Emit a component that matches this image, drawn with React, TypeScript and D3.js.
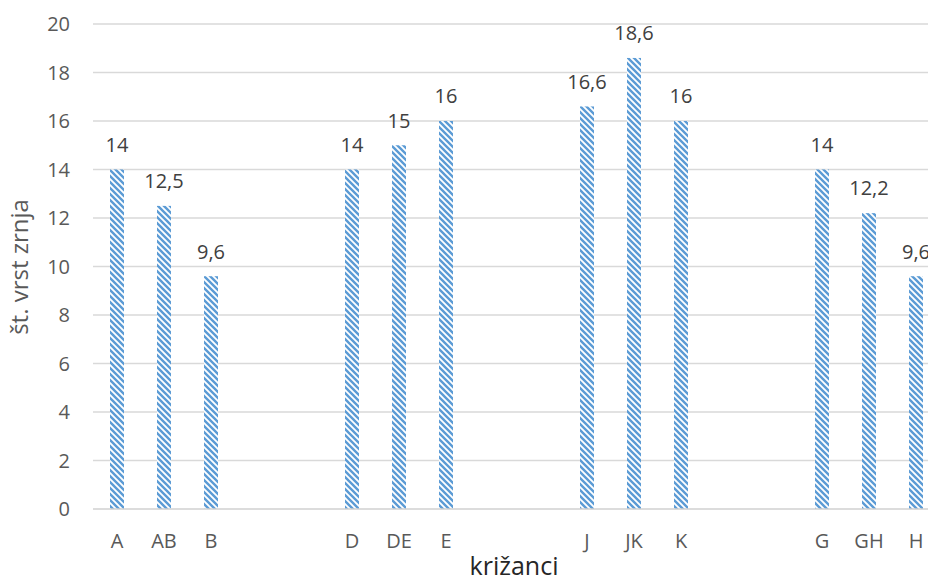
import React from "react";
import * as d3 from "d3";

// Crosses (križanci) grouped by parent line; empty slots separate the groups.
const categories = ["A", "AB", "B", "", "", "D", "DE", "E", "", "", "J", "JK", "K", "", "", "G", "GH", "H"];
const values: (number | null)[] = [14, 12.5, 9.6, null, null, 14, 15, 16, null, null, 16.6, 18.6, 16, null, null, 14, 12.2, 9.6];
const yTicks = [0, 2, 4, 6, 8, 10, 12, 14, 16, 18, 20];

const W = 928;
const H = 577;
const FONT = "'Open Sans', 'Noto Sans', sans-serif";
const AXIS_TEXT = "#595959";
const LABEL_TEXT = "#404040";
const BLUE = "#5B9BD5";

const fmt = (v: number) => String(v).replace(".", ",");

export default function App() {
  const slots = categories.map((_, i) => String(i));
  const x = d3.scaleBand<string>().domain(slots).range([93.5, 939.5]).paddingInner(0).paddingOuter(0);
  const y = d3.scaleLinear().domain([0, 20]).range([509, 24]);
  const barW = 14;
  const cx = (i: number) => (x(String(i)) as number) + x.bandwidth() / 2;

  return (
    <svg width={W} height={H} style={{ position: "absolute", left: 0, top: 0, background: "#fff" }}>
      <defs>
        <pattern id="dnDiag" patternUnits="userSpaceOnUse" width={6} height={6}>
          <rect width={6} height={6} fill="#fff" />
          <path d="M-1.5,-1.5 L7.5,7.5 M-1.5,4.5 L1.5,7.5 M4.5,-1.5 L7.5,1.5" stroke={BLUE} strokeWidth={2.4} />
        </pattern>
      </defs>

      {yTicks.map((t) => (
        <g key={t}>
          {t > 0 && <line x1={93} x2={W} y1={y(t)} y2={y(t)} stroke="#d9d9d9" strokeWidth={1.3} />}
          <text x={70} y={y(t)} dy="0.36em" textAnchor="end" fontFamily={FONT} fontSize={20} fill={AXIS_TEXT}>
            {t}
          </text>
        </g>
      ))}

      {values.map((v, i) =>
        v == null ? null : (
          <g key={i}>
            <rect x={cx(i) - barW / 2} y={y(v)} width={barW} height={y(0) - y(v)} fill="url(#dnDiag)" />
            <text x={cx(i)} y={y(v) - 17.7} textAnchor="middle" fontFamily={FONT} fontSize={20} fill={LABEL_TEXT}>
              {fmt(v)}
            </text>
          </g>
        )
      )}

      <line x1={93} x2={W} y1={y(0)} y2={y(0)} stroke="#d0d0d0" strokeWidth={1.5} />

      {categories.map((c, i) =>
        c ? (
          <text key={i} x={cx(i)} y={548} textAnchor="middle" fontFamily={FONT} fontSize={20} fill={AXIS_TEXT}>
            {c}
          </text>
        ) : null
      )}

      <text x={514} y={575} textAnchor="middle" fontFamily={FONT} fontSize={25} fill="#262626">
        križanci
      </text>
      <text
        transform={`translate(27.5,267) rotate(-90)`}
        textAnchor="middle"
        fontFamily={FONT}
        fontSize={24}
        fill={AXIS_TEXT}
      >
        št. vrst zrnja
      </text>
    </svg>
  );
}
